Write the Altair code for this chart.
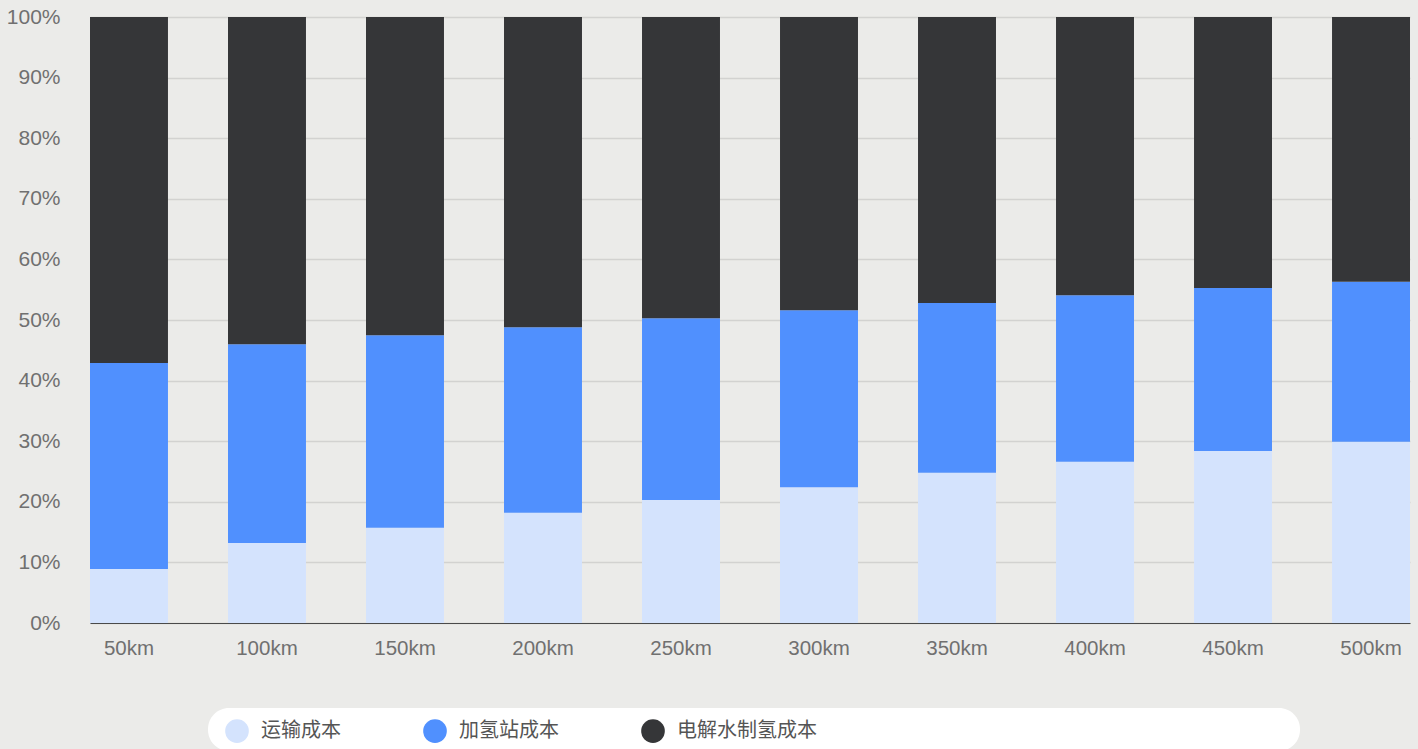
import altair as alt
import pandas as pd

distances = ["50km", "100km", "150km", "200km", "250km", "300km", "350km", "400km", "450km", "500km"]
series_names = ["运输成本", "加氢站成本", "电解水制氢成本"]
transport = [8.9, 13.2, 15.7, 18.2, 20.3, 22.4, 24.8, 26.6, 28.4, 29.9]
station = [34.0, 32.8, 31.8, 30.6, 30.0, 29.2, 28.0, 27.5, 26.9, 26.4]
electrolysis = [57.1, 54.0, 52.5, 51.2, 49.7, 48.4, 47.2, 45.9, 44.7, 43.7]
colors = ["#d4e3fd", "#5090fe", "#353638"]
y_ticks = [0, 0.1, 0.2, 0.3, 0.4, 0.5, 0.6, 0.7, 0.8, 0.9, 1.0]

rows = []
for i, d in enumerate(distances):
    for k, (name, vals) in enumerate(zip(series_names, [transport, station, electrolysis])):
        rows.append({"distance": d, "series": name, "value": vals[i], "order": k})
df = pd.DataFrame(rows)

bars = alt.Chart(df).mark_bar().encode(
    x=alt.X("distance:N", sort=distances,
            scale=alt.Scale(paddingInner=0.435, paddingOuter=0),
            axis=alt.Axis(title=None, labelAngle=0, ticks=False, grid=False,
                          domain=True, domainColor="#4a4a4a", domainWidth=1,
                          labelPadding=15, labelFontSize=20.5, labelColor="#707070",
                          labelFont="Liberation Sans")),
    y=alt.Y("value:Q", stack="normalize",
            scale=alt.Scale(domain=[0, 1], nice=False),
            axis=alt.Axis(title=None, values=y_ticks, format=".0%", ticks=False,
                          domain=False, grid=True, gridColor="#d2d2d0", gridWidth=1.5,
                          labelPadding=30, labelFontSize=21, labelColor="#707070",
                          labelFont="Liberation Sans")),
    color=alt.Color("series:N", sort=series_names,
                    scale=alt.Scale(domain=series_names, range=colors),
                    legend=alt.Legend(title=None, orient="none", legendX=135, legendY=702,
                                      direction="horizontal", symbolType="circle",
                                      symbolSize=560, symbolStrokeWidth=0, symbolOpacity=1,
                                      labelFontSize=20, labelColor="#555555",
                                      labelFont="Noto Sans CJK SC", labelOffset=12,
                                      columnPadding=82, padding=0)),
    order=alt.Order("order:Q", sort="ascending"),
)

box = alt.Chart(pd.DataFrame({"a": [0]})).mark_rect(
    color="white", cornerRadius=21
).encode(
    x=alt.value(118), x2=alt.value(1210), y=alt.value(691), y2=alt.value(734)
)

chart = alt.layer(box, bars).properties(
    width=1320, height=606,
    background="#ebebe9",
    padding={"left": 90, "top": 17, "right": 8, "bottom": 126},
    autosize=alt.AutoSizeParams(type="none"),
).configure_view(stroke=None)

chart.save("out.html", embed_options={"renderer": "svg", "actions": False})
